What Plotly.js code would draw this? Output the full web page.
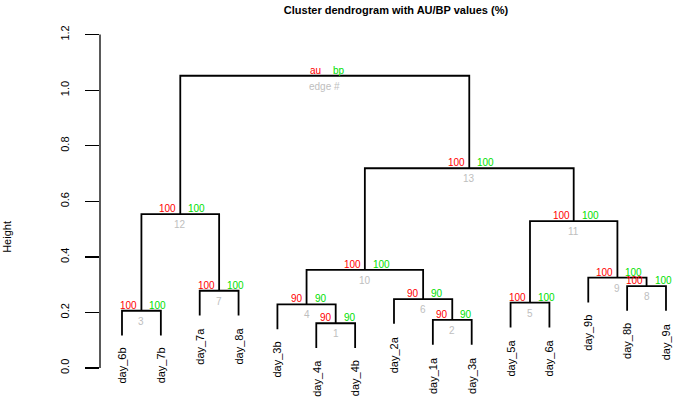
<!DOCTYPE html>
<html>
<head>
<meta charset="utf-8">
<script src="https://cdn.plot.ly/plotly-3.0.1.min.js"></script>
<style>html,body{margin:0;padding:0;background:#fff;}#chart{width:675px;height:400px;}</style>
</head>
<body>
<div id="chart"></div>
<script>
// Leaf labels in dendrogram order (left to right)
const leaves = ["day_6b","day_7b","day_7a","day_8a","day_3b","day_4a","day_4b","day_2a","day_1a","day_3a","day_5a","day_6a","day_9b","day_8b","day_9a"];
// Merge steps (hclust style): a string = leaf, a number = earlier cluster (1-based)
const mergeA = ["day_4a","day_1a","day_6b","day_3b","day_5a","day_2a","day_7a","day_8b","day_9b",4,5,3,10,12];
const mergeB = ["day_4b","day_3a","day_7b",1,"day_6a",2,"day_8a","day_9a",8,6,9,7,11,13];
const heights = [0.161,0.173,0.206,0.229,0.235,0.248,0.278,0.295,0.325,0.353,0.529,0.554,0.719,1.052];
// AU / BP p-values (%) and edge numbers for clusters 1..13
const auValues = [90,90,100,90,100,90,100,100,100,100,100,100,100];
const bpValues = [90,90,100,90,100,90,100,100,100,100,100,100,100];
const edgeNums = [1,2,3,4,5,6,7,8,9,10,11,12,13];
// Legend labels on the root node
const rootLabels = ["au","bp","edge #"];
const yTicks = [0,0.2,0.4,0.6,0.8,1.0,1.2];
const yTickText = ["0.0","0.2","0.4","0.6","0.8","1.0","1.2"];

const FONT = "Liberation Sans, Arial, Helvetica, sans-serif";
const RED = "#ff0000", GREEN = "#00e000", GRAY = "#bebebe";

const hang = 0.1 * (Math.max(...heights) - Math.min(...heights));
const clusterX = [];
const segX = [], segY = [];
const leafEnd = {};
function childX(c){ return (typeof c === "string") ? leaves.indexOf(c) + 1 : clusterX[c-1]; }
function childTop(c, h){ return (typeof c === "string") ? h - hang : heights[c-1]; }

for (let i = 0; i < heights.length; i++) {
  const a = mergeA[i], b = mergeB[i], h = heights[i];
  const xa = childX(a), xb = childX(b);
  clusterX.push((xa + xb) / 2);
  const ya = childTop(a, h), yb = childTop(b, h);
  if (typeof a === "string") leafEnd[a] = ya;
  if (typeof b === "string") leafEnd[b] = yb;
  segX.push(xa, xa, xb, xb, null);
  segY.push(ya, h, h, yb, null);
}

const annotations = [];
// leaf labels
leaves.forEach((lab, i) => {
  annotations.push({x: i + 1, y: leafEnd[lab], xref: "x", yref: "y", text: lab, showarrow: false,
    textangle: -90, xanchor: "center", yanchor: "top", yshift: -10,
    font: {family: FONT, size: 11, color: "#000"}});
});
// AU/BP/edge labels
for (let i = 0; i < heights.length; i++) {
  const isRoot = i === heights.length - 1;
  const au = isRoot ? rootLabels[0] : String(auValues[i]);
  const bp = isRoot ? rootLabels[1] : String(bpValues[i]);
  const ed = isRoot ? rootLabels[2] : String(edgeNums[i]);
  annotations.push({x: clusterX[i], y: heights[i], xref: "x", yref: "y", text: au, showarrow: false,
    xanchor: "right", yanchor: "bottom", xshift: -2, yshift: -2, font: {family: FONT, size: 10, color: RED}});
  annotations.push({x: clusterX[i], y: heights[i], xref: "x", yref: "y", text: bp, showarrow: false,
    xanchor: "left", yanchor: "bottom", xshift: 6, yshift: -2, font: {family: FONT, size: 10, color: GREEN}});
  annotations.push({x: clusterX[i], y: heights[i], xref: "x", yref: "y", text: ed, showarrow: false,
    xanchor: "center", yanchor: "top", yshift: -3, font: {family: FONT, size: 10, color: GRAY}});
}
// y axis title
annotations.push({x: -0.162, y: 0.425, xref: "paper", yref: "paper", text: "Height", showarrow: false,
  textangle: -90, xanchor: "center", yanchor: "middle", font: {family: FONT, size: 11, color: "#000"}});

const trace = {x: segX, y: segY, type: "scatter", mode: "lines", hoverinfo: "skip",
  line: {color: "#000", width: 1.8}, showlegend: false};

const layout = {
  width: 675, height: 400,
  margin: {l: 100, r: 0, t: 30, b: 10},
  paper_bgcolor: "#fff", plot_bgcolor: "#fff",
  title: {text: "<b>Cluster dendrogram with AU/BP values (%)</b>", x: 396/675, xref: "container", xanchor: "center",
    y: 1 - 10/400, yref: "container", yanchor: "middle", font: {family: FONT, size: 11, color: "#000"}},
  xaxis: {range: [0.434, 15.232], visible: false, fixedrange: true},
  yaxis: {range: [-0.0792, 1.2166], tickvals: yTicks, ticktext: yTickText, tickangle: -90,
    ticks: "outside", ticklen: 14, tickwidth: 1.3, tickcolor: "#000", showgrid: false, zeroline: false,
    showline: false, ticklabelstandoff: 12, tickfont: {family: FONT, size: 11, color: "#000"}, fixedrange: true},
  shapes: [{type: "line", xref: "paper", yref: "y", x0: 0, x1: 0, y0: 0, y1: 1.2,
    line: {color: "#000", width: 1.3}}],
  annotations: annotations
};
Plotly.newPlot("chart", [trace], layout, {displayModeBar: false, staticPlot: true});
</script>
</body>
</html>
